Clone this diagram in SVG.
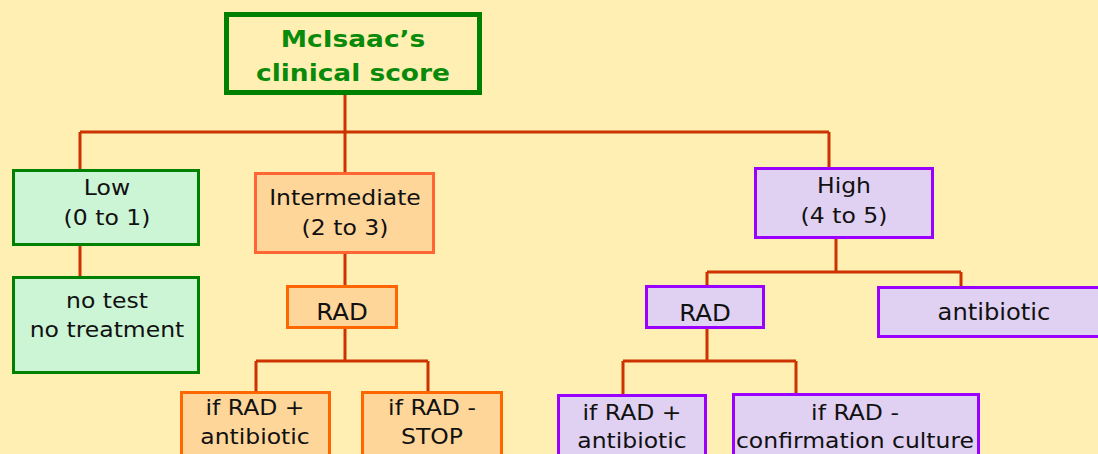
<svg xmlns="http://www.w3.org/2000/svg" width="1098" height="454" viewBox="0 0 1098 454">
<style>
.t{font-family:"DejaVu Sans","Verdana",sans-serif;font-size:21px;fill:#111;text-anchor:middle}
.s{font-family:"DejaVu Sans","Verdana",sans-serif;font-size:23.5px;fill:#111;text-anchor:middle}
.title{font-family:"DejaVu Sans","Verdana",sans-serif;font-size:23px;font-weight:bold;fill:#0A8A0A;text-anchor:middle}
.g{fill:#CCF5D6;stroke:#008000;stroke-width:3}
.o{fill:#FFD699;stroke:#FF6600;stroke-width:3}
.p{fill:#E0D0F2;stroke:#9900FF;stroke-width:3}
.c{fill:none;stroke:#CC3300;stroke-width:3}
</style>
<rect width="1098" height="454" fill="#FFEFB3"/>
<g id="connectors" class="c">
<path d="M345 95V132M80 132H829M80 132V169M345 132V172M829 132V167"/>
<path d="M80 246V276"/>
<path d="M345 254V285M345 329V361M256 361H428M256 361V391M428 361V391"/>
<path d="M836 239V272M707 272H961M707 272V285M961 272V286"/>
<path d="M707 329V361M623 361H796M623 361V394M796 361V393"/>
</g>
<g id="title">
<rect x="226.5" y="14.5" width="253" height="78" fill="#FFEFB3" stroke="#008000" stroke-width="5"/>
<text class="title" transform="matrix(1.15 0 0 1 353 0)" x="0" y="47">McIsaac’s</text>
<text class="title" transform="matrix(1.15 0 0 1 353 0)" x="0" y="81">clinical score</text>
</g>
<g id="low">
<rect class="g" x="13.5" y="170.5" width="185" height="74"/>
<text class="t" transform="matrix(1.12 0 0 1 107 0)" x="0" y="195">Low</text>
<text class="t" transform="matrix(1.12 0 0 1 107 0)" x="0" y="225">(0 to 1)</text>
</g>
<g id="notest">
<rect class="g" x="13.5" y="277.5" width="185" height="95"/>
<text class="t" transform="matrix(1.12 0 0 1 107 0)" x="0" y="308">no test</text>
<text class="t" transform="matrix(1.12 0 0 1 107 0)" x="0" y="337">no treatment</text>
</g>
<g id="intermediate">
<rect class="o" x="255.5" y="173.5" width="178" height="79" style="stroke:#FF6633"/>
<text class="t" transform="matrix(1.12 0 0 1 345 0)" x="0" y="205">Intermediate</text>
<text class="t" transform="matrix(1.12 0 0 1 345 0)" x="0" y="235">(2 to 3)</text>
</g>
<g id="rad-int">
<rect class="o" x="287.5" y="286.5" width="109" height="41"/>
<text class="s" transform="matrix(1.04 0 0 1 342 0)" x="0" y="320">RAD</text>
</g>
<g id="pos-int">
<rect class="o" x="181.5" y="392.5" width="148" height="80"/>
<text class="t" transform="matrix(1.12 0 0 1 255 0)" x="0" y="415">if RAD +</text>
<text class="t" transform="matrix(1.12 0 0 1 255 0)" x="0" y="444">antibiotic</text>
</g>
<g id="neg-int">
<rect class="o" x="362.5" y="392.5" width="139" height="80"/>
<text class="t" transform="matrix(1.12 0 0 1 432 0)" x="0" y="415">if RAD -</text>
<text class="t" transform="matrix(1.12 0 0 1 432 0)" x="0" y="444">STOP</text>
</g>
<g id="high">
<rect class="p" x="755.5" y="168.5" width="177" height="69"/>
<text class="t" transform="matrix(1.12 0 0 1 844 0)" x="0" y="193">High</text>
<text class="t" transform="matrix(1.12 0 0 1 844 0)" x="0" y="223">(4 to 5)</text>
</g>
<g id="rad-high">
<rect class="p" x="646.5" y="286.5" width="117" height="41"/>
<text class="s" transform="matrix(1.04 0 0 1 705 0)" x="0" y="321">RAD</text>
</g>
<g id="antibiotic">
<rect class="p" x="878.5" y="287.5" width="240" height="49"/>
<text class="s" transform="matrix(1.03 0 0 1 994 0)" x="0" y="320">antibiotic</text>
</g>
<g id="pos-high">
<rect class="p" x="558.5" y="395.5" width="147" height="80"/>
<text class="t" transform="matrix(1.12 0 0 1 632 0)" x="0" y="420">if RAD +</text>
<text class="t" transform="matrix(1.12 0 0 1 632 0)" x="0" y="448">antibiotic</text>
</g>
<g id="neg-high">
<rect class="p" x="733.5" y="394.5" width="245" height="80"/>
<text class="t" transform="matrix(1.12 0 0 1 855 0)" x="0" y="420">if RAD -</text>
<text class="t" transform="matrix(1.12 0 0 1 855 0)" x="0" y="448">confirmation culture</text>
</g>
</svg>
